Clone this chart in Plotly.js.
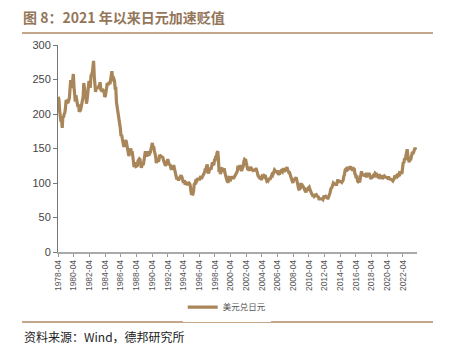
<!DOCTYPE html>
<html><head><meta charset="utf-8">
<script src="https://cdn.plot.ly/plotly-3.0.1.min.js"></script>
<style>html,body{margin:0;padding:0;background:#fff}</style>
</head><body><div id="chart" style="width:451px;height:356px"></div>
<script>
const titleText = '图 8：2021 年以来日元加速贬值';
const sourceText = '资料来源：Wind，德邦研究所';
const seriesName = '美元兑日元';
const startYear = 1978, startMonth = 4;
const usdJpy = [
  225,221,205,190,189,190,180,197,195,
  200,202,209,220,219,217,217,220,224,237,249,240,
  238,249,258,240,224,218,227,218,212,210,214,203,
  206,206,210,215,225,225,245,230,230,234,215,220,
  230,236,248,240,240,255,258,260,268,277,255,235,
  232,237,239,237,240,240,242,246,236,233,235,232,
  234,233,225,226,232,237,245,242,245,246,243,250,
  254,262,252,250,251,248,237,237,217,211,202,200,
  192,180,179,168,170,164,155,154,154,162,162,160,
  153,153,146,139,144,147,150,142,146,139,133,123,
  128,128,124,124,125,132,133,135,134,126,122,125,
  128,126,133,133,144,144,138,146,139,143,144,143,
  145,150,158,158,152,153,147,144,138,129,133,135,
  131,133,141,137,139,138,137,137,133,130,130,125,
  127,133,133,133,128,126,127,123,119,123,124,124,
  124,118,115,111,107,107,105,104,106,108,109,111,
  109,104,102,102,104,98,100,100,99,97,99,100,
  99,96,88,83,84,84,88,98,99,102,101,103,
  107,105,107,104,108,110,106,108,111,113,114,116,
  121,120,124,127,116,114,118,121,121,121,128,130,
  127,126,133,133,139,138,144,146,136,116,123,113,
  116,119,120,119,121,121,115,110,106,104,102,102,
  107,110,102,108,107,106,110,106,108,109,111,114,
  116,117,125,123,119,124,124,119,119,122,124,131,
  134,133,133,128,124,119,120,118,121,122,122,119,
  119,118,118,119,119,120,120,117,111,110,109,107,
  106,109,104,110,110,109,111,110,110,106,103,104,
  103,105,107,105,108,111,112,111,113,116,119,118,
  117,116,118,113,112,114,114,117,118,117,116,119,
  121,119,118,119,122,123,119,116,115,115,111,112,
  106,104,100,104,105,106,108,108,104,98,95,91,
  90,98,98,98,95,96,95,93,90,90,86,93,
  90,89,93,94,91,88,86,84,83,80,84,81,
  82,82,83,81,81,80,77,77,77,78,78,77,
  76,81,82,80,78,80,78,78,78,80,82,86,
  91,92,94,97,100,99,98,98,98,98,102,105,
  102,102,103,102,102,101,103,104,110,112,119,120,
  117,120,120,119,124,122,124,121,120,121,123,120,
  121,113,112,107,111,103,102,103,101,105,114,117,
  113,112,111,111,111,112,110,110,113,113,112,113,
  109,107,106,109,109,111,112,111,114,113,113,110,
  109,111,111,111,108,108,109,106,108,108,110,109,
  108,108,108,107,108,108,106,106,106,105,104,103,
  105,106,111,109,110,111,109,110,111,114,113,115,
  115,115,122,130,129,136,133,139,145,149,139,131,
  130,136,133,136,139,145,142,146,149,151,148
];
const tickYears = [];
for (let y = 1978; y <= 2022; y += 2) tickYears.push(y);

const dates = usdJpy.map((v, i) => {
  const m = startMonth - 1 + i;
  const yy = startYear + Math.floor(m / 12);
  const mm = (m % 12) + 1;
  return yy + '-' + String(mm).padStart(2, '0') + '-15';
});
const tickvals = tickYears.map(y => y + '-04-01');
const ticktext = tickYears.map(y => y + '-04');

const lineColor = '#A9865A';
const frameColor = '#B08A64';

Plotly.newPlot('chart', [{
  x: dates, y: usdJpy, type: 'scatter', mode: 'lines', name: seriesName,
  line: {color: lineColor, width: 3.2}
}], {
  width: 451, height: 356,
  margin: {l: 58, r: 34, t: 45, b: 104},
  paper_bgcolor: '#fff', plot_bgcolor: '#fff',
  font: {family: 'Liberation Sans, Arial, sans-serif', color: '#333'},
  title: {text: '<b>' + titleText + '</b>', x: 23/451, xanchor: 'left', xref: 'container',
    y: 1 - 18/356, yanchor: 'middle', yref: 'container',
    font: {family: 'Noto Sans CJK SC', size: 14, color: '#94765A'}},
  xaxis: {type: 'date', range: ['1978-04-01', '2024-01-15'],
    tickmode: 'array', tickvals: tickvals, ticktext: ticktext, tickangle: -90,
    ticks: 'outside', ticklen: 3, tickcolor: '#999', showgrid: false, zeroline: false,
    showline: true, linecolor: '#aaa', linewidth: 1.5,
    tickfont: {size: 8.5, color: '#555'}},
  yaxis: {range: [0, 300], dtick: 50, ticks: 'outside', ticklen: 4, tickcolor: '#777',
    showgrid: false, zeroline: false, showline: true, linecolor: '#777', linewidth: 1,
    tickfont: {size: 11, color: '#444'}},
  showlegend: true,
  legend: {orientation: 'h', x: 0.47, xanchor: 'center', y: -0.266, yanchor: 'middle',
    font: {family: 'Noto Sans CJK SC', size: 8.5, color: '#555'}, itemwidth: 30},
  shapes: [
    {type: 'line', xref: 'paper', yref: 'paper', x0: -0.1003, x1: 1.0446, y0: 1.058, y1: 1.058,
      line: {color: frameColor, width: 1.5}},
    {type: 'line', xref: 'paper', yref: 'paper', x0: -0.1003, x1: 1.0446, y0: -0.338, y1: -0.338,
      line: {color: frameColor, width: 1.5}}
  ],
  annotations: [
    {text: sourceText, xref: 'paper', yref: 'paper', x: -0.1003, y: -0.406,
      xanchor: 'left', yanchor: 'middle', showarrow: false,
      font: {family: 'Noto Sans CJK SC', size: 12, color: '#222'}}
  ]
}, {displayModeBar: false, staticPlot: true});
</script></body></html>
